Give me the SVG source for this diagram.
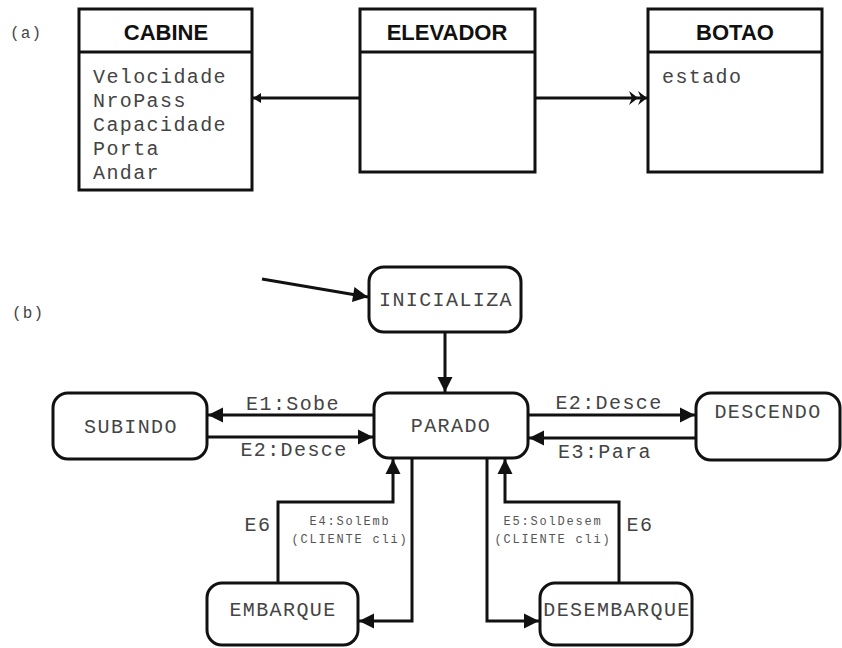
<svg xmlns="http://www.w3.org/2000/svg" width="842" height="648" viewBox="0 0 842 648">
  <defs>
    <style>
      .box { fill: #fff; stroke: #111; stroke-width: 3; }
      .line { fill: none; stroke: #111; stroke-width: 3; }
      .hdr { font-family: "Liberation Sans", Arial, sans-serif; font-weight: bold; font-size: 22px; fill: #111; text-anchor: middle; }
      .mono { font-family: "Liberation Mono", "Courier New", monospace; font-size: 20px; letter-spacing: 1.4px; fill: #444; }
      .mid { text-anchor: middle; }
      .small { font-family: "Liberation Mono", "Courier New", monospace; font-size: 12px; letter-spacing: 1.8px; fill: #555; text-anchor: middle; }
    </style>
    <marker id="arr" markerUnits="userSpaceOnUse" markerWidth="17" markerHeight="17" refX="16" refY="8.5" orient="auto">
      <path d="M1,1 L16,8.5 L1,16 z" fill="#111"/>
    </marker>
    <marker id="barb" markerUnits="userSpaceOnUse" markerWidth="10" markerHeight="12" refX="9" refY="6" orient="auto">
      <path d="M1,1 L9,6 L1,11 z" fill="#111"/>
    </marker>
    <marker id="dbl" markerUnits="userSpaceOnUse" markerWidth="20" markerHeight="16" refX="19" refY="8" orient="auto">
      <path d="M1,1 L10,8 L1,15 L4,8 z M10,1 L19,8 L10,15 L13,8 z" fill="#111"/>
    </marker>
  </defs>
  <rect width="842" height="648" fill="#fff"/>

  <!-- part (a): class diagram -->
  <text class="mono" x="10" y="38" style="font-size:16px;letter-spacing:1.2px">(a)</text>

  <g id="connectors-a">
    <line class="line" x1="360" y1="98" x2="253" y2="98" marker-end="url(#barb)"/>
    <line class="line" x1="535" y1="98" x2="647" y2="98" marker-end="url(#dbl)"/>
  </g>

  <g id="cabine">
    <rect class="box" x="79" y="9" width="173" height="181"/>
    <line class="line" x1="79" y1="52" x2="252" y2="52"/>
    <text class="hdr" x="166" y="40">CABINE</text>
    <text class="mono" x="93" y="83">Velocidade</text>
    <text class="mono" x="93" y="107">NroPass</text>
    <text class="mono" x="93" y="131">Capacidade</text>
    <text class="mono" x="93" y="155">Porta</text>
    <text class="mono" x="93" y="179">Andar</text>
  </g>

  <g id="elevador">
    <rect class="box" x="360" y="9" width="175" height="163"/>
    <line class="line" x1="360" y1="52" x2="535" y2="52"/>
    <text class="hdr" x="447" y="40">ELEVADOR</text>
  </g>

  <g id="botao">
    <rect class="box" x="648" y="9" width="174" height="163"/>
    <line class="line" x1="648" y1="52" x2="822" y2="52"/>
    <text class="hdr" x="735" y="40">BOTAO</text>
    <text class="mono" x="662" y="83">estado</text>
  </g>

  <!-- part (b): state diagram -->
  <text class="mono" x="12" y="318" style="font-size:16px;letter-spacing:1.2px">(b)</text>

  <g id="connectors-b">
    <line class="line" x1="262" y1="279" x2="368" y2="297" marker-end="url(#arr)"/>
    <line class="line" x1="445" y1="332" x2="445" y2="392" marker-end="url(#arr)"/>
    <line class="line" x1="373" y1="415" x2="208" y2="415" marker-end="url(#arr)"/>
    <line class="line" x1="208" y1="437" x2="373" y2="437" marker-end="url(#arr)"/>
    <line class="line" x1="528" y1="415" x2="695" y2="415" marker-end="url(#arr)"/>
    <line class="line" x1="695" y1="438" x2="529" y2="438" marker-end="url(#arr)"/>
    <polyline class="line" points="278,583 278,502 393,502 393,459" marker-end="url(#arr)"/>
    <polyline class="line" points="412,458 412,621 359,621" marker-end="url(#arr)"/>
    <polyline class="line" points="487,458 487,621 539,621" marker-end="url(#arr)"/>
    <polyline class="line" points="619,583 619,502 505,502 505,459" marker-end="url(#arr)"/>
    <text class="mono mid" x="293" y="410">E1:Sobe</text>
    <text class="mono mid" x="294" y="456">E2:Desce</text>
    <text class="mono mid" x="609" y="409">E2:Desce</text>
    <text class="mono mid" x="605" y="458">E3:Para</text>
    <text class="mono mid" x="258" y="531">E6</text>
    <text class="mono mid" x="640" y="531">E6</text>
    <text class="small" x="350" y="525">E4:SolEmb</text>
    <text class="small" x="350" y="543">(CLIENTE cli)</text>
    <text class="small" x="553" y="525">E5:SolDesem</text>
    <text class="small" x="553" y="543">(CLIENTE cli)</text>
  </g>

  <g id="inicializa">
    <rect class="box" x="369" y="267" width="152" height="65" rx="15"/>
    <text class="mono mid" x="446" y="306">INICIALIZA</text>
  </g>

  <g id="parado">
    <rect class="box" x="374" y="393" width="154" height="65" rx="15"/>
    <text class="mono mid" x="451" y="432">PARADO</text>
  </g>

  <g id="subindo">
    <rect class="box" x="53" y="393" width="154" height="66" rx="15"/>
    <text class="mono mid" x="131" y="433">SUBINDO</text>
  </g>

  <g id="descendo">
    <rect class="box" x="696" y="393" width="144" height="67" rx="15"/>
    <text class="mono mid" x="768" y="418">DESCENDO</text>
  </g>

  <g id="embarque">
    <rect class="box" x="207" y="583" width="151" height="62" rx="15"/>
    <text class="mono mid" x="283" y="616">EMBARQUE</text>
  </g>

  <g id="desembarque">
    <rect class="box" x="540" y="583" width="152" height="62" rx="15"/>
    <text class="mono mid" x="617" y="616">DESEMBARQUE</text>
  </g>
</svg>
